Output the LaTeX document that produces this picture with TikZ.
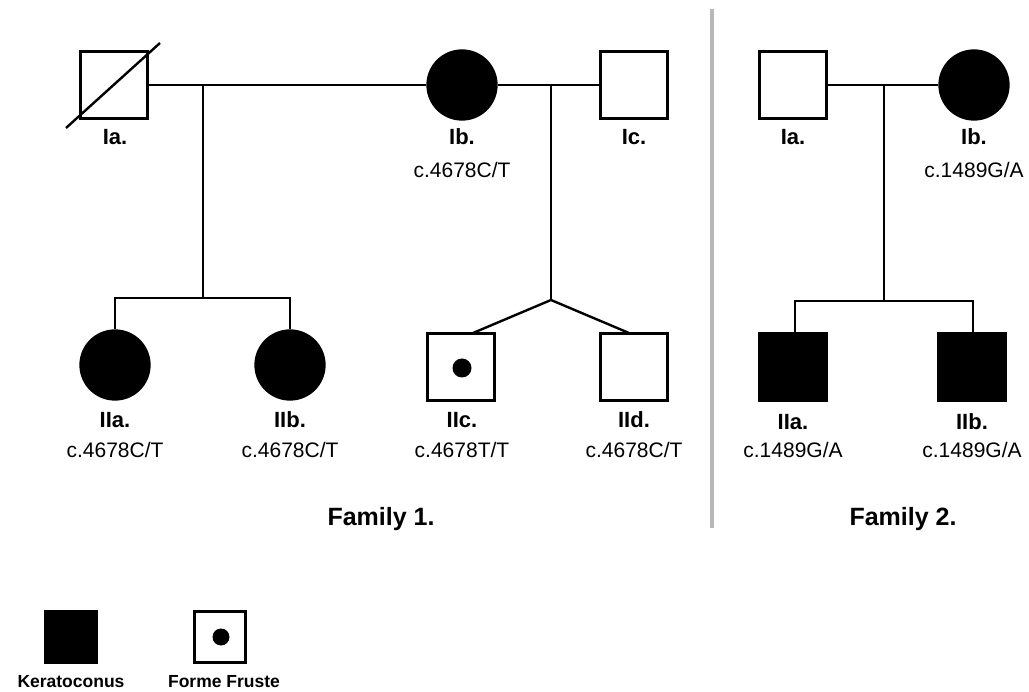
\documentclass[tikz,border=0pt]{standalone}
\usepackage{fontspec}
\setmainfont{Liberation Sans}
\begin{document}
\begin{tikzpicture}[x=1pt,y=-1pt,
  male/.style={draw,line width=3.3pt,minimum size=67pt,inner sep=0pt,rectangle,fill=white},
  female/.style={draw,line width=3.3pt,minimum size=68pt,inner sep=0pt,circle,fill=white},
  aff/.style={fill=black},
  lgbox/.style={draw,line width=3pt,minimum size=51pt,inner sep=0pt,rectangle},
  lnk/.style={line width=2.4pt},
  lab/.style={font=\fontsize{22}{24}\selectfont\bfseries,inner sep=0pt,anchor=base},
  geno/.style={font=\fontsize{21}{24}\selectfont,inner sep=0pt,anchor=base},
  fam/.style={font=\fontsize{25}{28}\selectfont\bfseries,inner sep=0pt,anchor=base},
  leg/.style={font=\fontsize{17.5}{20}\selectfont\bfseries,inner sep=0pt,anchor=base},
  dot/.style={circle,fill=black,minimum size=19pt,inner sep=0pt}]
\useasboundingbox (0,0) rectangle (1029,692);
% divider
\draw[line width=4pt,color=black!28] (712,9) -- (712,528);
% Family 1 generation I
\node[male] (f1Ia) at (114,85) {};
\draw[line width=2.4pt] (66,128) -- (160,43);
\node[female,aff] (f1Ib) at (462,85) {};
\node[male] (f1Ic) at (634,85) {};
% Family 1 generation II
\node[female,aff] (f1IIa) at (115,365) {};
\node[female,aff] (f1IIb) at (290,365) {};
\node[male] (f1IIc) at (461,367) {};
\node[dot] (f1dot) at (462,368) {};
\node[male] (f1IId) at (634,367) {};
% Family 1 connectors
\draw[lnk] (f1Ia.east) -- (f1Ib.west);
\draw[lnk] (f1Ib.east) -- (f1Ic.west);
\coordinate (m1) at (203,85);
\coordinate (s1) at (203,298);
\coordinate (s1l) at (115,298);
\coordinate (s1r) at (290,298);
\draw[lnk] (m1) -- (s1);
\draw[lnk] (f1IIa.north) -- (s1l) -- (s1r) -- (f1IIb.north);
\coordinate (m2) at (551,85);
\coordinate (t2) at (551,300);
\coordinate (c2l) at (473,333);
\coordinate (c2r) at (629,333);
\draw[lnk] (m2) -- (t2);
\draw[lnk,line join=miter] (c2l) -- (t2) -- (c2r);
% Family 1 labels
\node[lab] at (115,145) {Ia.};
\node[lab] at (462,145) {Ib.};
\node[lab] at (634,145) {Ic.};
\node[geno] at (462,178) {c.4678C/T};
\node[lab] at (115,428) {IIa.};
\node[lab] at (290,428) {IIb.};
\node[lab] at (462,428) {IIc.};
\node[lab] at (634,428) {IId.};
\node[geno] at (115,458) {c.4678C/T};
\node[geno] at (290,458) {c.4678C/T};
\node[geno] at (462,458) {c.4678T/T};
\node[geno] at (634,458) {c.4678C/T};
\node[fam] at (381,526) {Family 1.};
% Family 2
\node[male] (f2Ia) at (793,85) {};
\node[female,aff] (f2Ib) at (974,85) {};
\node[male,aff] (f2IIa) at (793,367) {};
\node[male,aff] (f2IIb) at (972,367) {};
\draw[lnk] (f2Ia.east) -- (f2Ib.west);
\coordinate (m3) at (884,85);
\coordinate (s3) at (884,301);
\coordinate (s3l) at (795,301);
\coordinate (s3r) at (973,301);
\draw[lnk] (m3) -- (s3);
\draw[lnk] (f2IIa.north -| s3l) -- (s3l) -- (s3r) -- (f2IIb.north -| s3r);
\node[lab] at (793,145) {Ia.};
\node[lab] at (974,145) {Ib.};
\node[geno] at (974,178) {c.1489G/A};
\node[lab] at (793,430) {IIa.};
\node[lab] at (972,430) {IIb.};
\node[geno] at (793,458) {c.1489G/A};
\node[geno] at (972,458) {c.1489G/A};
\node[fam] at (903,526) {Family 2.};
% Legend
\node[lgbox,fill=black] (lk) at (71,637) {};
\node[lgbox] (lf) at (220,637) {};
\node[dot,minimum size=17pt] (ldot) at (221,637) {};
\node[leg] at (71,687) {Keratoconus};
\node[leg] at (224,687) {Forme Fruste};
\end{tikzpicture}
\end{document}
